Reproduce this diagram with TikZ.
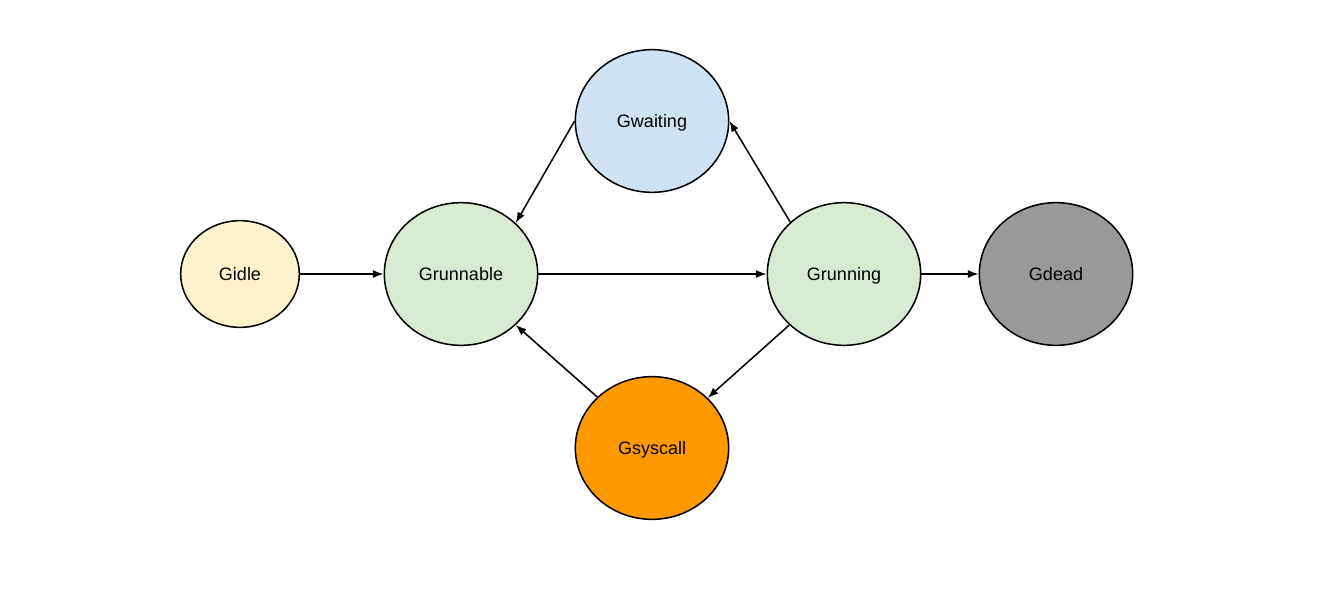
\documentclass[tikz,border=0pt]{standalone}
\usepackage{fontspec}
\setmainfont{Liberation Sans}
\usetikzlibrary{shapes.geometric,arrows.meta}
\definecolor{idlec}{HTML}{FFF2CC}
\definecolor{greenc}{HTML}{D9EAD3}
\definecolor{bluec}{HTML}{CFE2F3}
\definecolor{orangec}{HTML}{FF9900}
\definecolor{greyc}{HTML}{999999}
\tikzset{
  state/.style={ellipse, draw=black, line width=1.15pt, inner sep=0pt,
    minimum width=115pt, minimum height=107pt,
    text height=9.6pt, text depth=0pt,
    font=\fontsize{13.5}{16}\selectfont},
  smallstate/.style={state, minimum width=89pt, minimum height=80pt},
  conn/.style={line width=1.15pt, -{Latex[length=8pt,width=6pt]}}
}
\begin{document}
\begin{tikzpicture}[x=0.75pt,y=-0.75pt]
\useasboundingbox (0,0) rectangle (1330,603);
\node[smallstate, fill=idlec] (gi) at (240,274) {Gidle};
\node[state, fill=greenc] (gr) at (461,274) {Grunnable};
\node[state, fill=bluec] (gw) at (652,121) {Gwaiting};
\node[state, fill=greenc] (gn) at (844,274) {Grunning};
\node[state, fill=greyc] (gd) at (1056,274) {Gdead};
\node[state, fill=orangec] (gs) at (652,448) {Gsyscall};
\draw[conn] (gi.east) -- (gr.west);
\draw[conn] (gr.east) -- (gn.west);
\draw[conn] (gn.east) -- (gd.west);
\draw[conn] (gw.west) -- (gr.43);
\draw[conn] (gn.136) -- (gw.east);
\draw[conn] (gn.223) -- (gs.42);
\draw[conn] (gs.137) -- (gr.-43);
\end{tikzpicture}
\end{document}
